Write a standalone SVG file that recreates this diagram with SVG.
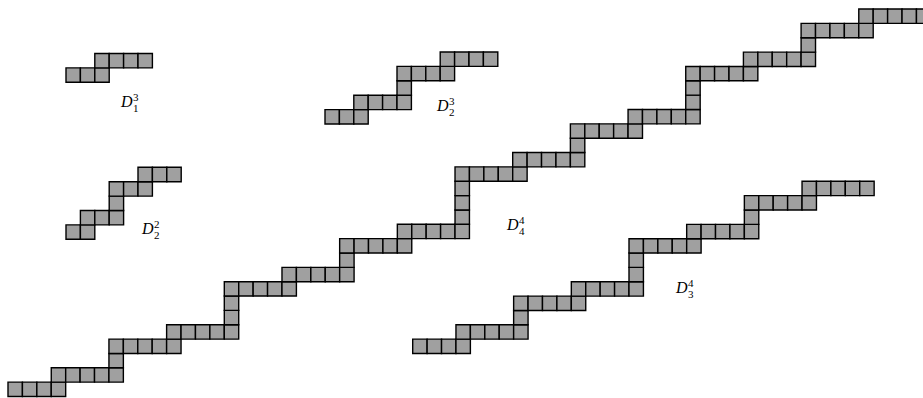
<svg xmlns="http://www.w3.org/2000/svg" xmlns:xlink="http://www.w3.org/1999/xlink" width="923" height="398" viewBox="0 0 923 398">
<style>
.cells{fill:#a0a0a0;stroke:#000;stroke-width:1.4}
.lbl{font-family:"Liberation Serif","DejaVu Serif",serif;fill:#000}
.D{font-size:16px;font-style:italic}
.s{font-size:11px}
</style>
<defs>
<rect id="c" width="1" height="1" vector-effect="non-scaling-stroke"/>
<g id="h2"><use href="#c"/><use href="#c" x="1"/></g>
<g id="h3"><use href="#c"/><use href="#c" x="1"/><use href="#c" x="2"/></g>
<g id="h4"><use href="#c"/><use href="#c" x="1"/><use href="#c" x="2"/><use href="#c" x="3"/></g>
<g id="h5"><use href="#c"/><use href="#c" x="1"/><use href="#c" x="2"/><use href="#c" x="3"/><use href="#c" x="4"/></g>
</defs>
<rect width="923" height="398" fill="#fff"/>

<g id="D13">
<g class="cells" transform="translate(66,82.3) scale(14.4)">
<use href="#h3" x="0" y="-1"/>
<use href="#h4" x="2" y="-2"/>
</g>
<g class="lbl"><text class="D" x="121" y="107">D</text><text class="s" x="133" y="101">3</text><text class="s" x="133" y="112">1</text></g>
</g>

<g id="D22">
<g class="cells" transform="translate(66,239.3) scale(14.4)">
<use href="#h2" x="0" y="-1"/>
<use href="#h3" x="1" y="-2"/>
<use href="#c" x="3" y="-3"/>
<use href="#h3" x="3" y="-4"/>
<use href="#h3" x="5" y="-5"/>
</g>
<g class="lbl"><text class="D" x="142" y="234">D</text><text class="s" x="154" y="228">2</text><text class="s" x="154" y="239">2</text></g>
</g>

<g id="D23">
<g class="cells" transform="translate(325,124) scale(14.4)">
<use href="#h3" x="0" y="-1"/>
<use href="#h4" x="2" y="-2"/>
<use href="#c" x="5" y="-3"/>
<use href="#h4" x="5" y="-4"/>
<use href="#h4" x="8" y="-5"/>
</g>
<g class="lbl"><text class="D" x="437" y="111">D</text><text class="s" x="449" y="105">3</text><text class="s" x="449" y="116">2</text></g>
</g>

<g id="D34">
<g class="cells" transform="translate(412.7,353.5) scale(14.42,14.35)">
<use href="#h4" x="0" y="-1"/>
<use href="#h5" x="3" y="-2"/>
<use href="#c" x="7" y="-3"/>
<use href="#h5" x="7" y="-4"/>
<use href="#h5" x="11" y="-5"/>
<use href="#c" x="15" y="-6"/>
<use href="#c" x="15" y="-7"/>
<use href="#h5" x="15" y="-8"/>
<use href="#h5" x="19" y="-9"/>
<use href="#c" x="23" y="-10"/>
<use href="#h5" x="23" y="-11"/>
<use href="#h5" x="27" y="-12"/>
</g>
<g class="lbl"><text class="D" x="676" y="293">D</text><text class="s" x="688" y="287">4</text><text class="s" x="688" y="298">3</text></g>
</g>

<g id="D44">
<g class="cells" transform="translate(8,396.5) scale(14.42,14.35)">
<use href="#h4" x="0" y="-1"/>
<use href="#h5" x="3" y="-2"/>
<use href="#c" x="7" y="-3"/>
<use href="#h5" x="7" y="-4"/>
<use href="#h5" x="11" y="-5"/>
<use href="#c" x="15" y="-6"/>
<use href="#c" x="15" y="-7"/>
<use href="#h5" x="15" y="-8"/>
<use href="#h5" x="19" y="-9"/>
<use href="#c" x="23" y="-10"/>
<use href="#h5" x="23" y="-11"/>
<use href="#h5" x="27" y="-12"/>
<use href="#c" x="31" y="-13"/>
<use href="#c" x="31" y="-14"/>
<use href="#c" x="31" y="-15"/>
<use href="#h5" x="31" y="-16"/>
<use href="#h5" x="35" y="-17"/>
<use href="#c" x="39" y="-18"/>
<use href="#h5" x="39" y="-19"/>
<use href="#h5" x="43" y="-20"/>
<use href="#c" x="47" y="-21"/>
<use href="#c" x="47" y="-22"/>
<use href="#h5" x="47" y="-23"/>
<use href="#h5" x="51" y="-24"/>
<use href="#c" x="55" y="-25"/>
<use href="#h5" x="55" y="-26"/>
<use href="#h5" x="59" y="-27"/>
</g>
<g class="lbl"><text class="D" x="507" y="230">D</text><text class="s" x="519" y="224">4</text><text class="s" x="519" y="235">4</text></g>
</g>
</svg>
